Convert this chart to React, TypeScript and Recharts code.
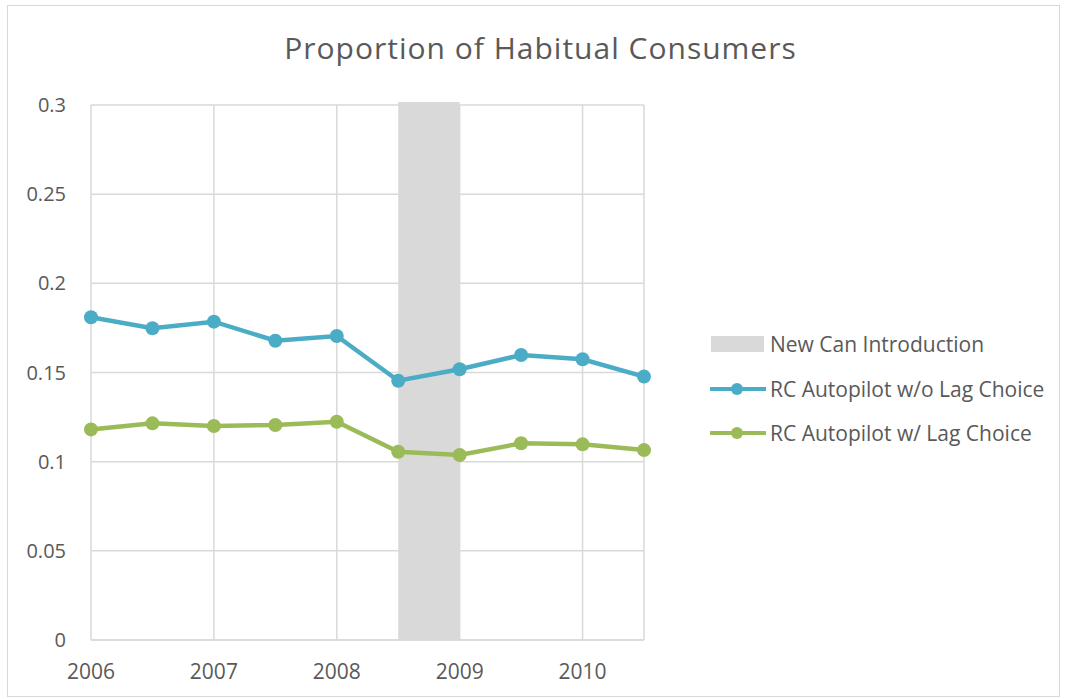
import {
  ComposedChart,
  Line,
  XAxis,
  YAxis,
  CartesianGrid,
  ReferenceArea,
  Legend,
} from 'recharts'

// half-year observation points
const years = [2006, 2006.5, 2007, 2007.5, 2008, 2008.5, 2009, 2009.5, 2010, 2010.5]
const withoutLag = [0.181, 0.1748, 0.1785, 0.1678, 0.1705, 0.1454, 0.1518, 0.1598, 0.1574, 0.1477]
const withLag = [0.1181, 0.1215, 0.12, 0.1206, 0.1224, 0.1056, 0.1037, 0.1103, 0.1097, 0.1065]

const yearTicks = [2006, 2007, 2008, 2009, 2010]
const valueTicks = [0, 0.05, 0.1, 0.15, 0.2, 0.25, 0.3]

// new can launch window
const canStart = 2008.5
const canEnd = 2009
const canTop = 0.3017

const TITLE = 'Proportion of Habitual Consumers'
const CAN_LABEL = 'New Can Introduction'
const NO_LAG_LABEL = 'RC Autopilot w/o Lag Choice'
const LAG_LABEL = 'RC Autopilot w/ Lag Choice'

const FONT = '"Open Sans", sans-serif'
const TEXT = '#595959'
const GRID = '#D9D9D9'
const BLUE = '#4BACC6'
const GREEN = '#9BBB59'

const data = years.map((year, i) => ({
  year,
  noLag: withoutLag[i],
  lag: withLag[i],
}))

const legendItems = [
  { label: CAN_LABEL, color: GRID, kind: 'area' },
  { label: NO_LAG_LABEL, color: BLUE, kind: 'line' },
  { label: LAG_LABEL, color: GREEN, kind: 'line' },
]

function LegendBox() {
  return (
    <div style={{ paddingLeft: 66, fontFamily: FONT, fontSize: 21, color: TEXT }}>
      {legendItems.map((item) => (
        <div
          key={item.label}
          style={{ display: 'flex', alignItems: 'center', height: 44.5, whiteSpace: 'nowrap' }}
        >
          <svg width={56} height={18} style={{ marginRight: 4, flexShrink: 0 }}>
            {item.kind === 'area' ? (
              <rect x={1} y={1} width={53} height={16} fill={item.color} />
            ) : (
              <>
                <line x1={1} y1={9} x2={56} y2={9} stroke={item.color} strokeWidth={4} strokeLinecap="round" />
                <circle cx={27} cy={9} r={6} fill={item.color} />
              </>
            )}
          </svg>
          <span>{item.label}</span>
        </div>
      ))}
    </div>
  )
}

export default function App() {
  return (
    <div style={{ position: 'relative', width: 1067, height: 699, background: '#fff' }}>
      <style>{'body{margin:0}'}</style>
      <div
        style={{
          position: 'absolute',
          left: 7,
          top: 5,
          width: 1053,
          height: 692,
          border: `1px solid ${GRID}`,
          boxSizing: 'border-box',
        }}
      />
      <div
        style={{
          position: 'absolute',
          left: 0,
          right: 0,
          top: 33,
          paddingLeft: 14,
          textAlign: 'center',
          fontFamily: FONT,
          fontSize: 30,
          lineHeight: '30px',
          letterSpacing: 1,
          color: TEXT,
          zIndex: 1,
        }}
      >
        {TITLE}
      </div>
      <div style={{ position: 'absolute', left: 0, top: 0 }}>
        <ComposedChart
          width={1067}
          height={699}
          data={data}
          margin={{ top: 105, right: 43, bottom: 19, left: 0 }}
        >
          <CartesianGrid stroke={GRID} strokeWidth={1.5} />
          <XAxis
            dataKey="year"
            type="number"
            domain={[2006, 2010.5]}
            ticks={yearTicks}
            height={40}
            tickSize={0}
            tickMargin={24}
            tickLine={false}
            axisLine={{ stroke: GRID, strokeWidth: 1.5 }}
            tick={{ fontSize: 21, fill: TEXT, fontFamily: FONT }}
          />
          <YAxis
            type="number"
            domain={[0, 0.3]}
            ticks={valueTicks}
            width={91}
            tickSize={0}
            tickMargin={25}
            tickLine={false}
            axisLine={false}
            tick={{ fontSize: 20, fill: TEXT, fontFamily: FONT }}
          />
          <ReferenceArea
            x1={canStart}
            x2={canEnd}
            y1={0}
            y2={canTop}
            fill={GRID}
            fillOpacity={1}
            stroke="none"
            ifOverflow="visible"
          />
          <Line
            dataKey="noLag"
            name={NO_LAG_LABEL}
            type="linear"
            stroke={BLUE}
            strokeWidth={4.5}
            dot={{ r: 7, fill: BLUE, stroke: 'none' }}
            activeDot={false}
            isAnimationActive={false}
          />
          <Line
            dataKey="lag"
            name={LAG_LABEL}
            type="linear"
            stroke={GREEN}
            strokeWidth={4.5}
            dot={{ r: 7, fill: GREEN, stroke: 'none' }}
            activeDot={false}
            isAnimationActive={false}
          />
          <Legend
            layout="vertical"
            align="right"
            verticalAlign="middle"
            wrapperStyle={{ width: 380, left: 644, top: 322 }}
            content={() => <LegendBox />}
          />
        </ComposedChart>
      </div>
    </div>
  )
}
